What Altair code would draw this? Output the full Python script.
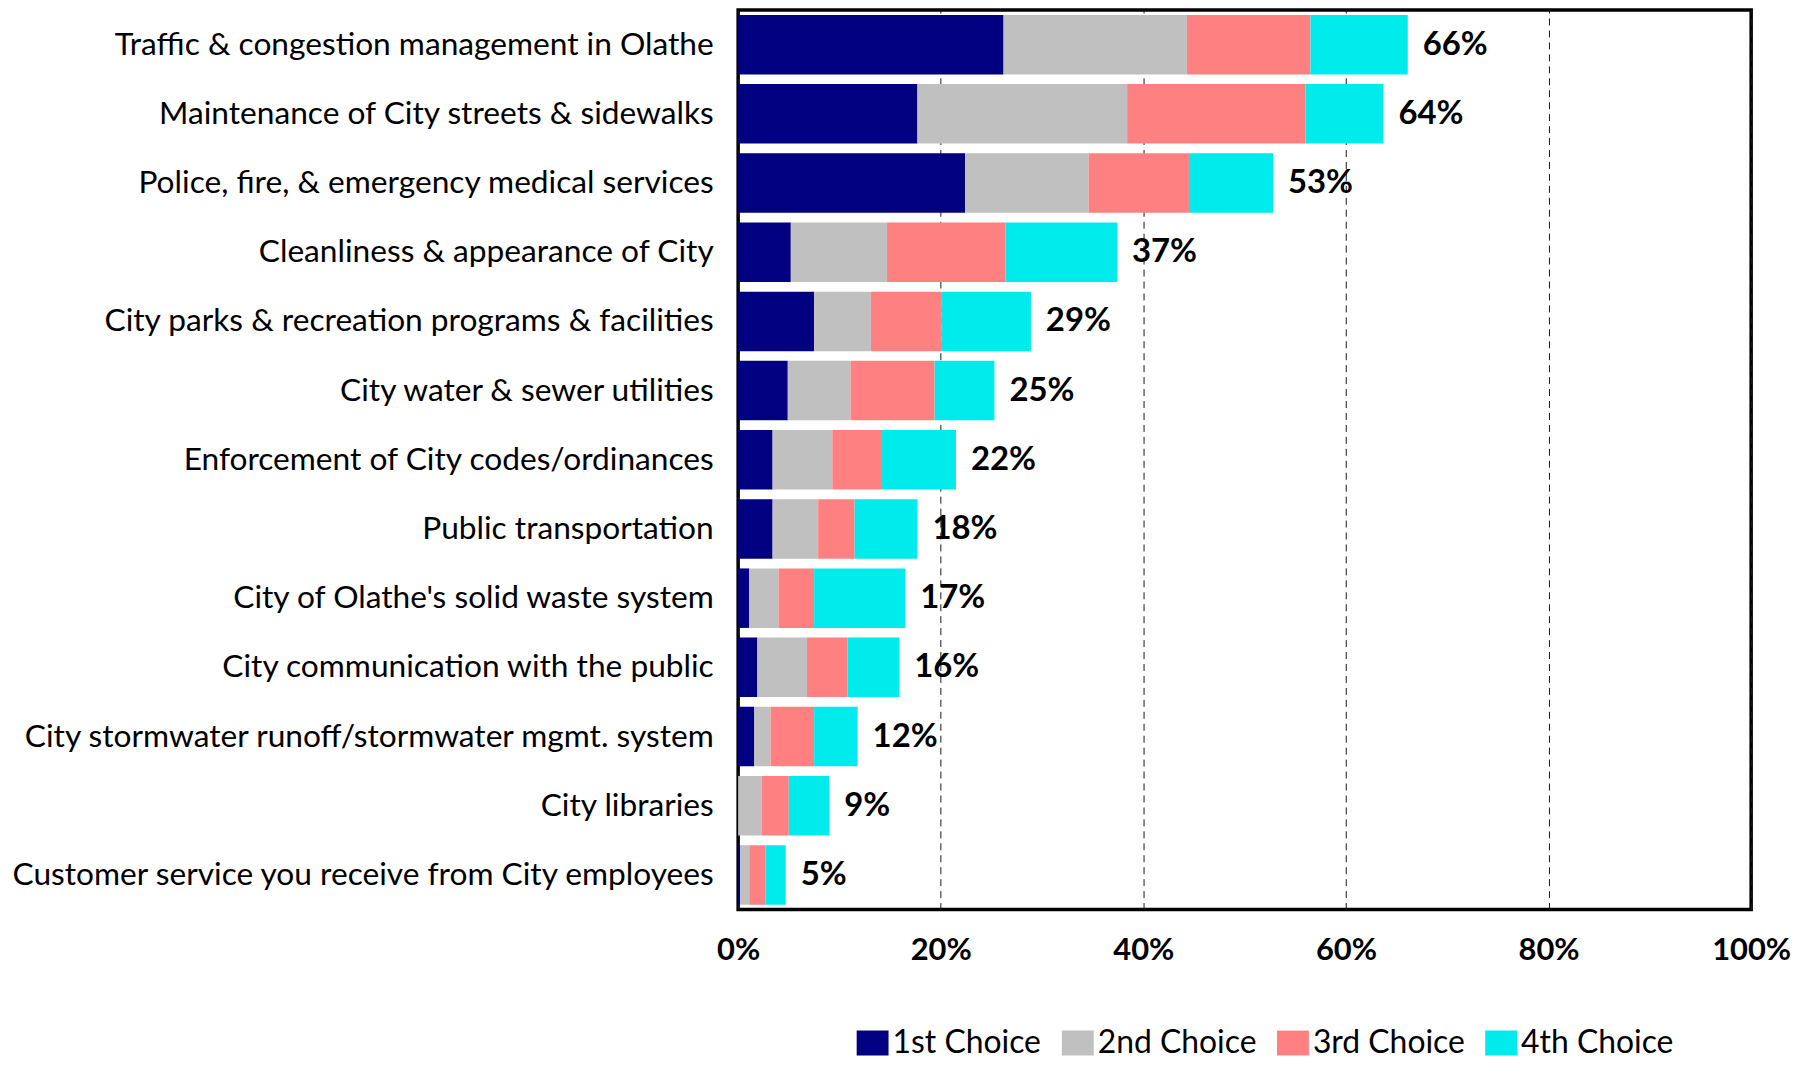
import altair as alt
import pandas as pd

categories = [
    "Traffic & congestion management in Olathe",
    "Maintenance of City streets & sidewalks",
    "Police, fire, & emergency medical services",
    "Cleanliness & appearance of City",
    "City parks & recreation programs & facilities",
    "City water & sewer utilities",
    "Enforcement of City codes/ordinances",
    "Public transportation",
    "City of Olathe's solid waste system\u00a0",
    "City communication with the public",
    "City stormwater runoff/stormwater mgmt. system",
    "City libraries",
    "Customer service you receive from City employees",
]
first = [26.2, 17.7, 22.4, 5.2, 7.5, 4.9, 3.4, 3.4, 1.1, 1.9, 1.6, 0.0, 0.2]
second = [18.1, 20.7, 12.2, 9.5, 5.6, 6.2, 5.9, 4.5, 2.9, 4.9, 1.6, 2.3, 0.9]
third = [12.2, 17.6, 9.9, 11.7, 7.0, 8.3, 4.9, 3.6, 3.5, 4.0, 4.3, 2.7, 1.6]
fourth = [9.6, 7.7, 8.3, 11.0, 8.8, 5.9, 7.3, 6.2, 9.0, 5.1, 4.3, 4.0, 2.0]
totals = [66, 64, 53, 37, 29, 25, 22, 18, 17, 16, 12, 9, 5]

series_names = ["1st Choice", "2nd Choice", "3rd Choice", "4th Choice"]
series_colors = ["#000080", "#C0C0C0", "#FF8080", "#00EBEB"]
tick_values = [0, 20, 40, 60, 80, 100]

rows = []
for i, cat in enumerate(categories):
    for k, vals in enumerate([first, second, third, fourth]):
        rows.append({"category": cat, "choice": series_names[k], "order": k, "value": vals[i]})
df = pd.DataFrame(rows)

lab = pd.DataFrame({
    "category": categories,
    "end": [a + b + c + d for a, b, c, d in zip(first, second, third, fourth)],
    "label": [f"{t}%" for t in totals],
})

FONT = "Lato"

y_enc = alt.Y("category:N", sort=categories, title=None,
              scale=alt.Scale(paddingInner=0.14, paddingOuter=0.07),
              axis=alt.Axis(labelFontSize=31.8, labelColor="black", labelFont=FONT,
                            ticks=False, domain=False, labelPadding=25, labelLimit=0,
                            grid=False))

bars = alt.Chart(df).mark_bar(stroke=None).encode(
    x=alt.X("value:Q", stack="zero", title=None,
            scale=alt.Scale(domain=[0, 100], nice=False),
            axis=alt.Axis(values=tick_values, labelExpr="datum.value + '%'",
                          labelFontSize=31, labelFontWeight="bold", labelColor="black",
                          labelFont=FONT, labelPadding=26, labelFlush=False, ticks=False,
                          domain=False, grid=True, gridDash=[7, 5], gridColor="#1a1a1a",
                          gridWidth=1)),
    y=y_enc,
    color=alt.Color("choice:N", sort=series_names,
                    scale=alt.Scale(domain=series_names, range=series_colors),
                    legend=alt.Legend(title=None, orient="none", legendX=119, legendY=1021,
                                      direction="horizontal", columns=4,
                                      symbolType="M-1,-0.78H1V0.78H-1Z", symbolSize=1024,
                                      symbolStrokeWidth=0, labelFontSize=32, labelFont=FONT,
                                      labelColor="black", labelOffset=4, columnPadding=20,
                                      padding=0)),
    order=alt.Order("order:Q"),
)

texts = alt.Chart(lab).mark_text(align="left", baseline="middle", dx=15,
                                 fontSize=33, fontWeight="bold", font=FONT,
                                 color="black").encode(
    x=alt.X("end:Q"),
    y=alt.Y("category:N", sort=categories),
    text="label:N",
)

chart = alt.layer(bars, texts).properties(
    width=1017, height=903,
    autosize=alt.AutoSizeParams(type="none"),
    padding={"left": 733, "top": 0, "right": 43, "bottom": 153},
).configure_view(stroke="black", strokeWidth=3.5)

chart.save("out.html", embed_options={"renderer": "svg", "actions": False})
